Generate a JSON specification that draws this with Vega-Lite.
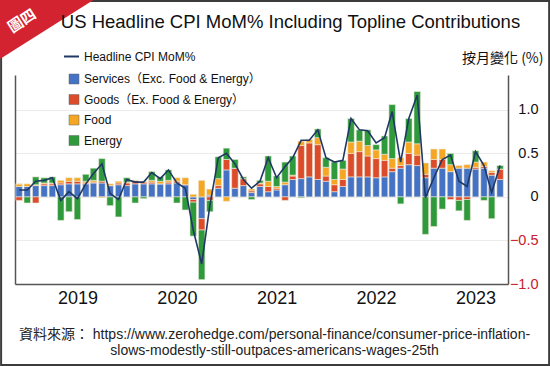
{
  "$schema": "https://vega.github.io/schema/vega-lite/v6.json",
  "width": 493,
  "height": 209,
  "autosize": {"type": "none"},
  "padding": {"left": 15, "top": 75, "right": 42, "bottom": 82},
  "background": "white",
  "config": {"view": {"stroke": null}, "font": "Liberation Sans"},
  "title": {
    "text": "US Headline CPI MoM% Including Topline Contributions",
    "font": "Liberation Sans",
    "fontSize": 18.5,
    "fontWeight": "normal",
    "color": "#111111",
    "anchor": "middle",
    "frame": "group",
    "dx": 29,
    "dy": 50,
    "offset": 0,
    "baseline": "middle"
  },
  "data": {
    "values": [
      {"date": "2018-06-01", "Services": 0.12, "Goods": -0.04, "Food": 0.03, "Energy": 0.0, "Headline": 0.08},
      {"date": "2018-07-01", "Services": 0.12, "Goods": 0.0, "Food": 0.03, "Energy": -0.07, "Headline": 0.08},
      {"date": "2018-08-01", "Services": 0.13, "Goods": -0.07, "Food": 0.01, "Energy": 0.09, "Headline": 0.18},
      {"date": "2018-09-01", "Services": 0.13, "Goods": 0.02, "Food": 0.01, "Energy": 0.06, "Headline": 0.19},
      {"date": "2018-10-01", "Services": 0.13, "Goods": 0.02, "Food": 0.01, "Energy": 0.07, "Headline": 0.22},
      {"date": "2018-11-01", "Services": 0.14, "Goods": 0.02, "Food": 0.03, "Energy": -0.27, "Headline": -0.04},
      {"date": "2018-12-01", "Services": 0.15, "Goods": 0.03, "Food": 0.04, "Energy": -0.17, "Headline": 0.06},
      {"date": "2019-01-01", "Services": 0.15, "Goods": 0.03, "Food": 0.04, "Energy": -0.26, "Headline": -0.02},
      {"date": "2019-02-01", "Services": 0.15, "Goods": 0.01, "Food": 0.02, "Energy": 0.08, "Headline": 0.15},
      {"date": "2019-03-01", "Services": 0.16, "Goods": 0.01, "Food": 0.02, "Energy": 0.14, "Headline": 0.27},
      {"date": "2019-04-01", "Services": 0.16, "Goods": 0.02, "Food": -0.01, "Energy": 0.26, "Headline": 0.38},
      {"date": "2019-05-01", "Services": 0.13, "Goods": 0.0, "Food": 0.02, "Energy": -0.1, "Headline": 0.04},
      {"date": "2019-06-01", "Services": 0.14, "Goods": 0.02, "Food": 0.02, "Energy": -0.23, "Headline": -0.03},
      {"date": "2019-07-01", "Services": 0.13, "Goods": 0.03, "Food": 0.01, "Energy": 0.05, "Headline": 0.2},
      {"date": "2019-08-01", "Services": 0.15, "Goods": 0.04, "Food": 0.0, "Energy": -0.07, "Headline": 0.17},
      {"date": "2019-09-01", "Services": 0.15, "Goods": 0.02, "Food": 0.01, "Energy": -0.02, "Headline": 0.17},
      {"date": "2019-10-01", "Services": 0.15, "Goods": 0.02, "Food": 0.02, "Energy": 0.1, "Headline": 0.28},
      {"date": "2019-11-01", "Services": 0.15, "Goods": 0.0, "Food": 0.03, "Energy": 0.05, "Headline": 0.21},
      {"date": "2019-12-01", "Services": 0.15, "Goods": 0.02, "Food": 0.02, "Energy": 0.12, "Headline": 0.31},
      {"date": "2020-01-01", "Services": 0.16, "Goods": 0.02, "Food": 0.04, "Energy": -0.07, "Headline": 0.16},
      {"date": "2020-02-01", "Services": 0.14, "Goods": 0.0, "Food": 0.08, "Energy": -0.15, "Headline": 0.1},
      {"date": "2020-03-01", "Services": -0.03, "Goods": -0.03, "Food": 0.03, "Energy": -0.39, "Headline": -0.38},
      {"date": "2020-04-01", "Services": -0.25, "Goods": -0.13, "Food": 0.19, "Energy": -0.57, "Headline": -0.77},
      {"date": "2020-05-01", "Services": 0.02, "Goods": -0.04, "Food": 0.07, "Energy": -0.13, "Headline": -0.1},
      {"date": "2020-06-01", "Services": 0.1, "Goods": 0.03, "Food": 0.08, "Energy": 0.25, "Headline": 0.45},
      {"date": "2020-07-01", "Services": 0.31, "Goods": 0.12, "Food": -0.05, "Energy": 0.13, "Headline": 0.5},
      {"date": "2020-08-01", "Services": 0.1, "Goods": 0.23, "Food": 0.0, "Energy": 0.1, "Headline": 0.38},
      {"date": "2020-09-01", "Services": 0.13, "Goods": 0.08, "Food": 0.0, "Energy": 0.02, "Headline": 0.2},
      {"date": "2020-10-01", "Services": 0.05, "Goods": 0.02, "Food": 0.02, "Energy": -0.03, "Headline": 0.1},
      {"date": "2020-11-01", "Services": 0.12, "Goods": 0.03, "Food": 0.01, "Energy": 0.03, "Headline": 0.18},
      {"date": "2020-12-01", "Services": 0.06, "Goods": 0.06, "Food": 0.06, "Energy": 0.29, "Headline": 0.45},
      {"date": "2021-01-01", "Services": 0.08, "Goods": 0.02, "Food": 0.02, "Energy": 0.12, "Headline": 0.22},
      {"date": "2021-02-01", "Services": 0.14, "Goods": -0.04, "Food": 0.03, "Energy": 0.23, "Headline": 0.35},
      {"date": "2021-03-01", "Services": 0.2, "Goods": 0.04, "Food": 0.01, "Energy": 0.22, "Headline": 0.45},
      {"date": "2021-04-01", "Services": 0.21, "Goods": 0.38, "Food": 0.05, "Energy": -0.01, "Headline": 0.65},
      {"date": "2021-05-01", "Services": 0.23, "Goods": 0.39, "Food": 0.04, "Energy": 0.0, "Headline": 0.65},
      {"date": "2021-06-01", "Services": 0.2, "Goods": 0.4, "Food": 0.08, "Energy": 0.1, "Headline": 0.77},
      {"date": "2021-07-01", "Services": 0.18, "Goods": 0.06, "Food": 0.1, "Energy": 0.11, "Headline": 0.45},
      {"date": "2021-08-01", "Services": 0.06, "Goods": 0.08, "Food": 0.06, "Energy": 0.2, "Headline": 0.4},
      {"date": "2021-09-01", "Services": 0.12, "Goods": 0.08, "Food": 0.12, "Energy": 0.1, "Headline": 0.42},
      {"date": "2021-10-01", "Services": 0.23, "Goods": 0.27, "Food": 0.13, "Energy": 0.27, "Headline": 0.9},
      {"date": "2021-11-01", "Services": 0.23, "Goods": 0.29, "Food": 0.12, "Energy": 0.13, "Headline": 0.77},
      {"date": "2021-12-01", "Services": 0.23, "Goods": 0.24, "Food": 0.12, "Energy": 0.18, "Headline": 0.76},
      {"date": "2022-01-01", "Services": 0.22, "Goods": 0.22, "Food": 0.1, "Energy": 0.06, "Headline": 0.62},
      {"date": "2022-02-01", "Services": 0.23, "Goods": 0.19, "Food": 0.07, "Energy": 0.21, "Headline": 0.68},
      {"date": "2022-03-01", "Services": 0.29, "Goods": 0.04, "Food": 0.11, "Energy": 0.62, "Headline": 0.98},
      {"date": "2022-04-01", "Services": 0.33, "Goods": 0.03, "Food": 0.09, "Energy": -0.08, "Headline": 0.4},
      {"date": "2022-05-01", "Services": 0.37, "Goods": 0.13, "Food": 0.13, "Energy": 0.27, "Headline": 0.9},
      {"date": "2022-06-01", "Services": 0.36, "Goods": 0.12, "Food": 0.13, "Energy": 0.6, "Headline": 1.17},
      {"date": "2022-07-01", "Services": 0.22, "Goods": 0.04, "Food": 0.13, "Energy": -0.43, "Headline": -0.01},
      {"date": "2022-08-01", "Services": 0.33, "Goods": 0.1, "Food": 0.12, "Energy": -0.34, "Headline": 0.22},
      {"date": "2022-09-01", "Services": 0.33, "Goods": 0.1, "Food": 0.12, "Energy": -0.14, "Headline": 0.43},
      {"date": "2022-10-01", "Services": 0.29, "Goods": -0.03, "Food": 0.08, "Energy": 0.13, "Headline": 0.48},
      {"date": "2022-11-01", "Services": 0.33, "Goods": -0.04, "Food": 0.03, "Energy": -0.12, "Headline": 0.18},
      {"date": "2022-12-01", "Services": 0.33, "Goods": -0.03, "Food": 0.04, "Energy": -0.24, "Headline": 0.12},
      {"date": "2023-01-01", "Services": 0.32, "Goods": 0.02, "Food": 0.06, "Energy": 0.13, "Headline": 0.52},
      {"date": "2023-02-01", "Services": 0.33, "Goods": 0.02, "Food": 0.05, "Energy": -0.04, "Headline": 0.36},
      {"date": "2023-03-01", "Services": 0.25, "Goods": 0.03, "Food": 0.02, "Energy": -0.25, "Headline": 0.05},
      {"date": "2023-04-01", "Services": 0.2, "Goods": 0.12, "Food": 0.0, "Energy": 0.04, "Headline": 0.36}
    ]
  },
  "resolve": {"axis": {"y": "independent", "x": "independent"}},
  "layer": [
    {
      "data": {"values": [{}]},
      "mark": {"type": "rect", "filled": false, "stroke": "#3c3c3c", "strokeWidth": 2},
      "encoding": {
        "x": {"datum": {"year": 2018, "month": 3, "date": 27}, "type": "temporal", "axis": null},
        "x2": {"datum": {"year": 2023, "month": 9, "date": 28}},
        "y": {"datum": 2.25, "type": "quantitative", "axis": null},
        "y2": {"datum": -1.93}
      }
    },
    {
      "data": {"values": [{}]},
      "mark": {"type": "point", "shape": "M -0.1 -0.1 L 1.158 -0.1 L -0.1 0.695 Z", "filled": true, "fill": "#d42330", "opacity": 1, "size": 34900, "strokeWidth": 0},
      "encoding": {
        "x": {"datum": {"year": 2018, "month": 3, "date": 23}, "type": "temporal", "axis": null},
        "y": {"datum": 2.2613, "type": "quantitative", "axis": null}
      }
    },
    {
      "data": {"values": [{}]},
      "mark": {"type": "text", "text": "圖四", "angle": -33, "color": "white", "font": "Noto Sans CJK TC", "fontSize": 15, "fontWeight": "bold", "align": "center", "baseline": "middle"},
      "encoding": {
        "x": {"datum": {"year": 2018, "month": 6, "date": 12}, "type": "temporal", "axis": null},
        "y": {"datum": 2.02, "type": "quantitative", "axis": null}
      }
    },
    {
      "transform": [{"fold": ["Services", "Goods", "Food", "Energy"], "as": ["component", "value"]}],
      "mark": {"type": "bar", "size": 6.5, "stroke": "#eee9da", "strokeWidth": 0.6},
      "encoding": {
        "x": {
          "field": "date",
          "type": "temporal",
          "scale": {"domain": [{"year": 2018, "month": 5, "date": 17}, {"year": 2023, "month": 4, "date": 30}], "padding": 0},
          "axis": {
            "values": [{"year": 2019, "month": 1, "date": 1}, {"year": 2020, "month": 1, "date": 1}, {"year": 2021, "month": 1, "date": 1}, {"year": 2022, "month": 1, "date": 1}, {"year": 2023, "month": 1, "date": 1}],
            "format": "%Y",
            "labelFont": "Liberation Sans",
            "labelFontSize": 18,
            "labelColor": "#111111",
            "labelPadding": 5,
            "ticks": false,
            "grid": false,
            "domainColor": "#555555",
            "domainWidth": 1.5,
            "title": ["資料來源： https://www.zerohedge.com/personal-finance/consumer-price-inflation-", "slows-modestly-still-outpaces-americans-wages-25th"],
            "titleFont": "Liberation Sans, Noto Sans CJK TC, sans-serif",
            "titleFontSize": 14,
            "titleFontWeight": "normal",
            "titleColor": "#222222",
            "titleX": 259,
            "titleY": 43,
            "titleAlign": "center",
            "titleBaseline": "top",
            "titleLineHeight": 16
          }
        },
        "y": {
          "field": "value",
          "type": "quantitative",
          "stack": "zero",
          "scale": {"domain": [-1, 1.4], "nice": false, "zero": false},
          "axis": {
            "orient": "right",
            "values": [-1, -0.5, 0, 0.5, 1],
            "labelExpr": "datum.value == 0 ? '0' : format(datum.value, '.1f')",
            "labelColor": {"expr": "datum.value < 0 ? '#c8202c' : '#111111'"},
            "labelFont": "Liberation Sans",
            "labelFontSize": 14.5,
            "labelAlign": "right",
            "labelBaseline": "middle",
            "labelPadding": 30,
            "ticks": false,
            "tickSize": 0,
            "grid": true,
            "gridColor": "#ececec",
            "gridWidth": 1,
            "domainColor": "#555555",
            "domainWidth": 1.5,
            "title": "按月變化 (%)",
            "titleFont": "Noto Sans CJK TC",
            "titleFontSize": 14,
            "titleFontWeight": "normal",
            "titleColor": "#111111",
            "titleAngle": 0,
            "titleAlign": "right",
            "titleBaseline": "middle",
            "titleX": 35,
            "titleY": -17
          }
        },
        "color": {
          "field": "component",
          "type": "nominal",
          "scale": {"domain": ["Services", "Goods", "Food", "Energy"], "range": ["#4472c4", "#dc4b2a", "#f5a623", "#2f9a3c"]},
          "legend": {
            "orient": "none",
            "legendX": 53,
            "legendY": -2,
            "title": null,
            "symbolType": "square",
            "symbolSize": 100,
            "symbolStrokeColor": "#666666",
            "symbolStrokeWidth": 0.5,
            "labelFont": "Liberation Sans, Noto Sans CJK TC",
            "labelFontSize": 12,
            "labelColor": "#111111",
            "labelOffset": 4,
            "labelLimit": 300,
            "rowPadding": 8.5,
            "padding": 0,
            "labelExpr": "datum.label == 'Services' ? 'Services（Exc. Food & Energy）' : datum.label == 'Goods' ? 'Goods（Ex. Food & Energy）' : datum.label"
          }
        },
        "order": {"field": "component", "sort": "descending"}
      }
    },
    {
      "mark": {"type": "line", "strokeWidth": 1.6},
      "encoding": {
        "x": {"field": "date", "type": "temporal", "axis": null},
        "y": {
          "field": "Headline",
          "type": "quantitative",
          "axis": {"orient": "left", "labels": false, "ticks": false, "grid": false, "domainColor": "#555555", "domainWidth": 1.5, "title": null}
        },
        "stroke": {
          "datum": "Headline CPI MoM%",
          "type": "nominal",
          "scale": {"range": ["#1f3864"]},
          "legend": {
            "orient": "none",
            "legendX": 48,
            "legendY": -27,
            "title": null,
            "symbolType": "stroke",
            "symbolSize": 225,
            "symbolStrokeWidth": 2,
            "labelFont": "Liberation Sans",
            "labelFontSize": 12,
            "labelColor": "#111111",
            "labelOffset": 4,
            "labelLimit": 300,
            "padding": 0
          }
        }
      }
    }
  ]
}
